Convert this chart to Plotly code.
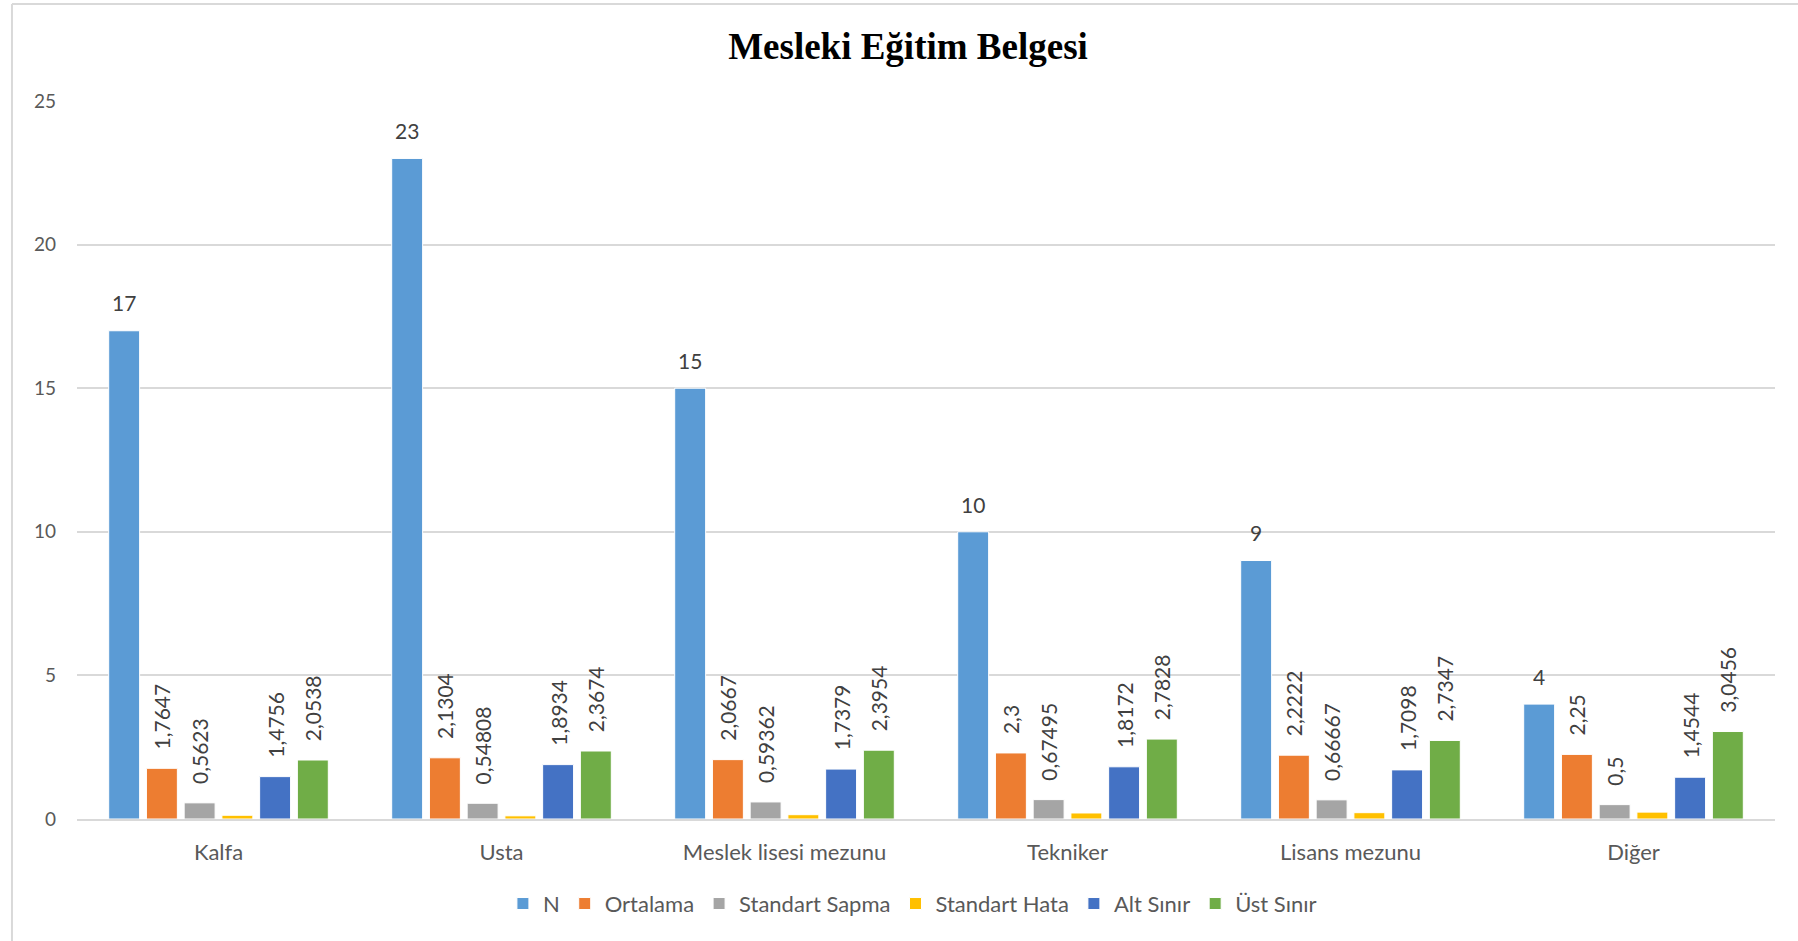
import plotly.graph_objects as go

categories = ["Kalfa", "Usta", "Meslek lisesi mezunu", "Tekniker", "Lisans mezunu", "Diğer"]

n_vals = [17, 23, 15, 10, 9, 4]
ortalama = [1.7647, 2.1304, 2.0667, 2.3, 2.2222, 2.25]
std_sapma = [0.5623, 0.54808, 0.59362, 0.67495, 0.66667, 0.5]
std_hata = [0.13, 0.11, 0.15, 0.21, 0.22, 0.24]  # no labels in the picture
alt_sinir = [1.4756, 1.8934, 1.7379, 1.8172, 1.7098, 1.4544]
ust_sinir = [2.0538, 2.3674, 2.3954, 2.7828, 2.7347, 3.0456]

y_ticks = [0, 5, 10, 15, 20, 25]

FONT = "Lato, 'Open Sans', sans-serif"
GREY = "#595959"
LABEL = "#404040"


def tr_num(v):
    return str(v).replace(".", ",")


def rot_labels(vals):
    # leading spaces push the rotated label up away from the bar top, like Excel does
    return ["\u2002\u00a0" + tr_num(v) for v in vals]


def flat_labels(vals):
    return ['<span style="font-size:21px">%s</span><br>\u00a0' % tr_num(v) for v in vals]


series = [
    ("N", n_vals, "#5B9BD5", flat_labels(n_vals), 0),
    ("Ortalama", ortalama, "#ED7D31", rot_labels(ortalama), -90),
    ("Standart Sapma", std_sapma, "#A5A5A5", rot_labels(std_sapma), -90),
    ("Standart Hata", std_hata, "#FFC000", None, 0),
    ("Alt Sınır", alt_sinir, "#4472C4", rot_labels(alt_sinir), -90),
    ("Üst Sınır", ust_sinir, "#70AD47", rot_labels(ust_sinir), -90),
]

fig = go.Figure()
for name, vals, color, text, angle in series:
    fig.add_trace(go.Bar(
        name=name,
        x=categories,
        y=vals,
        marker=dict(color=color, line=dict(color="white", width=1)),
        text=text,
        textposition="outside" if text else "none",
        textangle=angle,
        constraintext="none",
        cliponaxis=False,
        textfont=dict(family=FONT, size=11 if name == "N" else 21, color=LABEL),
        hoverinfo="x+y+name",
    ))

fig.update_layout(
    width=1798,
    height=941,
    paper_bgcolor="white",
    plot_bgcolor="white",
    barmode="group",
    bargap=0.2,
    bargroupgap=0.18,
    margin=dict(l=77, r=23, t=101, b=122),
    font=dict(family=FONT, size=19, color=GREY),
    title=dict(
        text="<b>Mesleki Eğitim Belgesi</b>",
        x=0.505,
        xanchor="center",
        y=0.951,
        yanchor="middle",
        font=dict(family="'Liberation Serif', 'Times New Roman', serif", size=37, color="black"),
    ),
    showlegend=True,
    legend=dict(
        orientation="h",
        x=0.492,
        xanchor="center",
        y=-0.118,
        yanchor="middle",
        font=dict(family=FONT, size=22, color=GREY),
        traceorder="normal",
    ),
    xaxis=dict(
        showgrid=False,
        showline=True,
        linecolor="#D9D9D9",
        linewidth=2,
        ticks="",
        ticklabelstandoff=13,
        tickfont=dict(family=FONT, size=22, color=GREY),
    ),
    yaxis=dict(
        range=[0, 25],
        tickvals=y_ticks,
        showgrid=True,
        gridcolor="#D9D9D9",
        gridwidth=2,
        zeroline=False,
        showline=False,
        ticks="",
        ticklabelstandoff=20,
        tickfont=dict(family=FONT, size=19, color=GREY),
    ),
    shapes=[
        dict(type="line", xref="paper", yref="paper", x0=-0.0383, x1=-0.0383, y0=-0.3, y1=1.1351,
             line=dict(color="#D9D9D9", width=2)),
        dict(type="line", xref="paper", yref="paper", x0=-0.0383, x1=1.05, y0=1.1351, y1=1.1351,
             line=dict(color="#D9D9D9", width=2)),
    ],
)

# the page's default 8px body margin would shift the whole chart
fig.write_html(
    "out.html",
    config={"displayModeBar": False},
    post_script="document.body.style.margin='0';",
)
